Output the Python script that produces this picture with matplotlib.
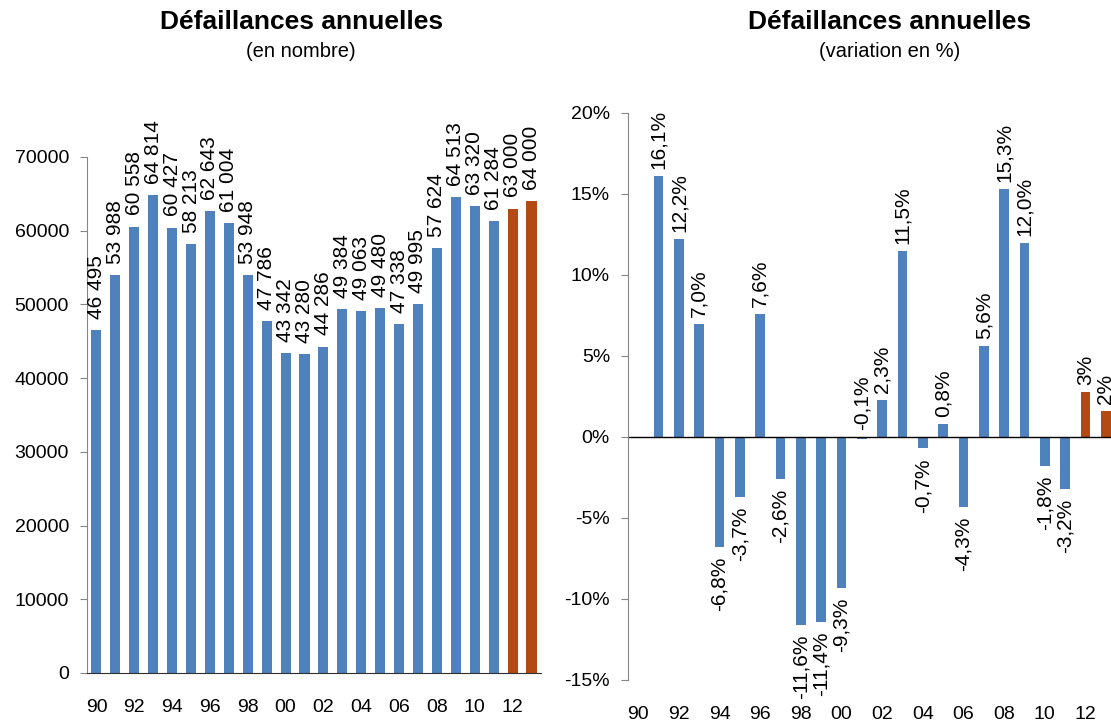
import matplotlib.pyplot as plt

plt.rcParams['font.family'] = ['Liberation Sans', 'DejaVu Sans']

years = ['90', '91', '92', '93', '94', '95', '96', '97', '98', '99', '00', '01',
         '02', '03', '04', '05', '06', '07', '08', '09', '10', '11', '12', '13']
defaillances = [46495, 53988, 60558, 64814, 60427, 58213, 62643, 61004, 53948,
                47786, 43342, 43280, 44286, 49384, 49063, 49480, 47338, 49995,
                57624, 64513, 63320, 61284, 63000, 64000]
# variation en %, pas de valeur pour 1990
variation = [None, 16.1, 12.2, 7.0, -6.8, -3.7, 7.6, -2.6, -11.6, -11.4, -9.3,
             -0.1, 2.3, 11.5, -0.7, 0.8, -4.3, 5.6, 15.3, 12.0, -1.8, -3.2,
             2.8, 1.6]
prevision = [False] * 22 + [True, True]

BLUE = '#4F81BD'
ORANGE = '#B34A13'
GREY = '#868686'
FS = 14
FS_LAB = 15

fig = plt.figure(figsize=(11.11, 7.22), dpi=100)

colors = [ORANGE if p else BLUE for p in prevision]
x = list(range(len(years)))

# --- nombre de défaillances ---
ax1 = fig.add_axes([0.0783, 0.0679, 0.4086, 0.7147])
ax1.bar(x, defaillances, width=0.53, color=colors)
for i, v in enumerate(defaillances):
    ax1.annotate(f'{v:,}'.replace(',', ' '), (i, v), xytext=(0, 8),
                 textcoords='offset points', rotation=90, ha='center',
                 va='bottom', fontsize=FS_LAB, annotation_clip=False)
ax1.set_xlim(-0.5, len(years) - 0.5)
ax1.set_ylim(0, 70000)
ax1.set_yticks(range(0, 70001, 10000))
ax1.set_xticks(x[::2])
ax1.set_xticklabels(years[::2])
ax1.tick_params(axis='x', length=0, pad=19, labelsize=FS)
ax1.tick_params(axis='y', length=5, color=GREY, pad=8, labelsize=FS)
for s in ['top', 'right']:
    ax1.spines[s].set_visible(False)
ax1.spines['left'].set_color(GREY)
ax1.spines['bottom'].set_color('#303030')

fig.text(0.271, 0.969, 'Défaillances annuelles', ha='center', va='center',
         fontsize=19, fontweight='bold')
fig.text(0.271, 0.928, '(en nombre)', ha='center', va='center', fontsize=14.5)

# --- variation annuelle ---
ax2 = fig.add_axes([0.5653, 0.0582, 0.4392, 0.7853])
xs = [i for i, v in enumerate(variation) if v is not None]
vals = [v for v in variation if v is not None]
ax2.bar(xs, vals, width=0.47, color=[colors[i] for i in xs])
for i, v in zip(xs, vals):
    txt = (f'{v:.0f}%' if prevision[i] else f'{v:.1f}%'.replace('.', ','))
    above = v > -0.5
    ax2.annotate(txt, (i, max(v, 0) if above else v),
                 xytext=(0, 5 if above else -7), textcoords='offset points',
                 rotation=90, ha='center', va='bottom' if above else 'top',
                 fontsize=FS_LAB, annotation_clip=False)
ax2.axhline(0, color='black', lw=1)
ax2.set_xlim(-0.5, len(years) - 0.5)
ax2.set_ylim(-15, 20)
ax2.set_yticks(range(-15, 21, 5))
ax2.set_yticklabels([f'{t}%' for t in range(-15, 21, 5)])
ax2.set_xticks(x[::2])
ax2.set_xticklabels(years[::2])
ax2.tick_params(axis='x', length=0, pad=19, labelsize=FS)
ax2.tick_params(axis='y', length=5, color=GREY, pad=8, labelsize=FS)
for s in ['top', 'right', 'bottom']:
    ax2.spines[s].set_visible(False)
ax2.spines['left'].set_color(GREY)

fig.text(0.801, 0.969, 'Défaillances annuelles', ha='center', va='center',
         fontsize=19, fontweight='bold')
fig.text(0.801, 0.928, '(variation en %)', ha='center', va='center',
         fontsize=14.5)

fig.savefig('out.png', dpi=100)
